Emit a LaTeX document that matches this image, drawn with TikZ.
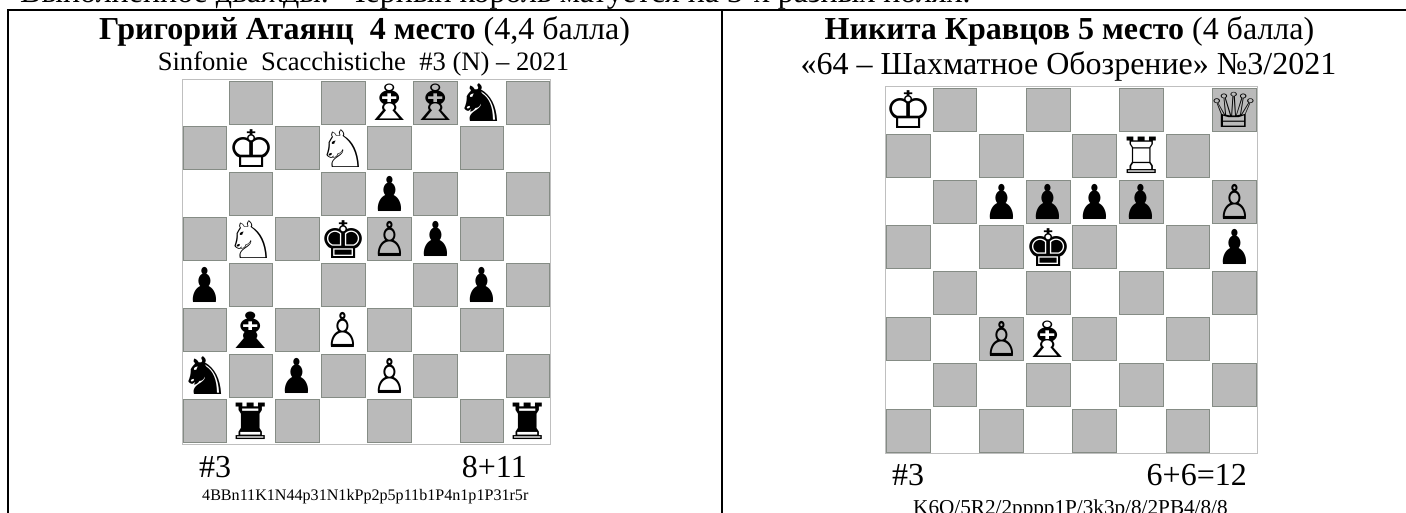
\documentclass[tikz,border=0pt]{standalone}
\usepackage{fontspec}
\setmainfont{Liberation Serif}
\newfontfamily\chessfont{DejaVu Sans}
\definecolor{SquareClr}{rgb}{0.73,0.73,0.73}
\definecolor{SquareEdge}{rgb}{0.52,0.55,0.52}
\definecolor{FrameClr}{rgb}{0.75,0.75,0.75}
\tikzset{
  board/.style={draw=FrameClr,line width=1pt},
  darksq/.style={fill=SquareClr,draw=SquareEdge,line width=.8pt},
  piece/.style={inner sep=0pt,transform shape,font=\chessfont\fontsize{37}{37}\selectfont},
  kingp/.style={xscale=1.45,yscale=1.4},
  queenp/.style={xscale=1.6,yscale=1.3},
  rookp/.style={xscale=1.4,yscale=1.35},
  bishopp/.style={xscale=1.7,yscale=1.35},
  knightp/.style={xscale=1.55,yscale=1.4},
  pawnp/.style={xscale=1.05,yscale=1.3},
  title/.style={inner sep=0pt,anchor=base,font=\fontsize{32}{32}\selectfont},
  stip/.style={inner sep=0pt,font=\fontsize{32}{32}\selectfont},
}
\begin{document}
\begin{tikzpicture}[x=1pt,y=-1pt]
\useasboundingbox (0,0) rectangle (1406,513);

\clip (0,0) rectangle (1406,513);
\node[stip,anchor=base west] (intro) at (20,2.5) {Выполненное дважды.\ \ Черный король матуется на 3-х разных полях.};

\coordinate (TL) at (8,10);
\coordinate (TM) at (722,10);
\coordinate (TR) at (1406,10);
\coordinate (BL) at (8,513);
\coordinate (BM) at (722,513);
\draw[line width=2.2pt] (BL) -- (TL) -- (TR);
\draw[line width=1.6pt] (TM) -- (BM);

\node[title] (nameA) at (364.5,40) {\textbf{Григорий Атаянц\ \ 4 место} (4,4 балла)};
\node[title,font=\fontsize{26.6}{26.6}\selectfont] (srcA) at (363.5,71) {Sinfonie\ \ Scacchistiche\ \ \#3 (N) – 2021};
\node[title] (nameB) at (1069.5,40) {\textbf{Никита Кравцов 5 место} (4 балла)};
\node[title] (srcB) at (1068.5,75) {«64 – Шахматное Обозрение» №3/2021};

\begin{scope}[shift={(182,80)},x=46.1pt,y=-45.5pt]
\draw[board] (0,0) rectangle (8,8);
\foreach \r in {0,...,7}
  \foreach \c in {0,...,7}{
    \pgfmathtruncatemacro{\odd}{mod(\r+\c,2)}
    \ifnum\odd=1
      \fill[darksq] (\c+.03,\r+.03) rectangle (\c+.97,\r+.97);
    \fi
  }
\foreach \c/\r/\g/\k in {4/0/♗/bishopp,5/0/♗/bishopp,6/0/♞/knightp,1/1/♔/kingp,3/1/♘/knightp,4/2/♟/pawnp,
  1/3/♘/knightp,3/3/♚/kingp,4/3/♙/pawnp,5/3/♟/pawnp,0/4/♟/pawnp,6/4/♟/pawnp,1/5/♝/bishopp,3/5/♙/pawnp,
  0/6/♞/knightp,2/6/♟/pawnp,4/6/♙/pawnp,1/7/♜/rookp,7/7/♜/rookp}
  \node[piece,\k] (a\c\r) at (\c+.5,\r+.5) {\g};
\end{scope}

\begin{scope}[shift={(885,87)},x=46.6pt,y=-45.8pt]
\draw[board] (0,0) rectangle (8,8);
\foreach \r in {0,...,7}
  \foreach \c in {0,...,7}{
    \pgfmathtruncatemacro{\odd}{mod(\r+\c,2)}
    \ifnum\odd=1
      \fill[darksq] (\c+.03,\r+.03) rectangle (\c+.97,\r+.97);
    \fi
  }
\foreach \c/\r/\g/\k in {0/0/♔/kingp,7/0/♕/queenp,5/1/♖/rookp,2/2/♟/pawnp,3/2/♟/pawnp,4/2/♟/pawnp,5/2/♟/pawnp,
  7/2/♙/pawnp,3/3/♚/kingp,7/3/♟/pawnp,2/5/♙/pawnp,3/5/♗/bishopp}
  \node[piece,\k] (b\c\r) at (\c+.5,\r+.5) {\g};
\end{scope}

\node[stip,anchor=base west] (stipA) at (199,477) {\#3};
\node[stip,anchor=base east] (countA) at (527,477) {8+11};
\node[inner sep=0pt,anchor=base west,font=\fontsize{16.1}{16.1}\selectfont] (fenA) at (202,500) {4BBn11K1N44p31N1kPp2p5p11b1P4n1p1P31r5r};
\node[stip,anchor=base west] (stipB) at (892,485) {\#3};
\node[stip,anchor=base east] (countB) at (1247,485) {6+6=12};
\node[inner sep=0pt,anchor=base west,font=\fontsize{21.2}{21.2}\selectfont] (fenB) at (913,514) {K6Q/5R2/2pppp1P/3k3p/8/2PB4/8/8};
\end{tikzpicture}
\end{document}
